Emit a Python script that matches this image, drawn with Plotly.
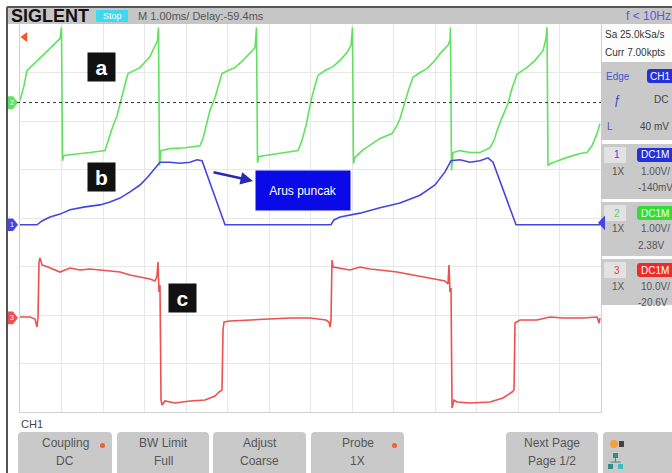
import plotly.graph_objects as go

W, H = 672, 473

# ---- acquisition data: time in ms (relative to screen centre), amplitude in volts ----
# CH2 (green) - signal a
ch2_t = [-7.000, -6.904, -6.831, -6.687, -6.518, -6.325, -6.157, -6.036, -6.000,
         -5.976, -5.940, -5.675, -5.313, -4.952, -4.880, -4.783, -4.663, -4.542,
         -4.446, -4.398, -4.253, -4.108, -3.867, -3.747, -3.687, -3.663,
         -3.639, -3.602, -3.386, -3.024, -2.663, -2.590, -2.542, -2.422, -2.301,
         -2.205, -2.133, -1.988, -1.819, -1.627, -1.458, -1.337, -1.301,
         -1.277, -1.241, -0.976, -0.614, -0.301, -0.205, -0.108, 0.012, 0.108,
         0.181, 0.349, 0.542, 0.711, 0.880, 0.976, 1.012,
         1.036, 1.072, 1.241, 1.482, 1.675, 1.964, 2.084, 2.157, 2.277,
         2.373, 2.470, 2.639, 2.807, 3.000, 3.120, 3.313, 3.361, 3.373,
         3.398, 3.434, 3.602, 3.843, 4.084, 4.325, 4.422, 4.494, 4.614,
         4.759, 4.855, 4.976, 5.096, 5.217, 5.410, 5.602, 5.675, 5.699,
         5.723, 5.771, 5.964, 6.181, 6.494, 6.663, 6.783, 6.904, 6.976]
ch2_v = [0.04, 0.35, 0.66, 0.78, 0.91, 1.07, 1.22, 1.32, 1.55,
         -1.20, -1.09, -1.07, -1.03, -0.99, -0.78, -0.54, -0.27, 0.10,
         0.45, 0.60, 0.66, 0.72, 0.95, 1.18, 1.28, 1.55,
         -1.30, -0.99, -0.95, -0.93, -0.89, -0.74, -0.58, -0.16, 0.10,
         0.41, 0.60, 0.66, 0.72, 0.87, 1.01, 1.13, 1.55,
         -1.24, -1.11, -1.07, -1.03, -0.99, -0.78, -0.47, 0.04, 0.35,
         0.56, 0.66, 0.74, 0.87, 1.03, 1.18, 1.55,
         -1.26, -1.13, -0.99, -0.85, -0.74, -0.64, -0.47, -0.33, 0.04,
         0.29, 0.52, 0.62, 0.70, 0.87, 1.01, 1.18, 1.28, 1.55,
         -1.40, -1.03, -0.99, -1.03, -1.03, -0.93, -0.78, -0.58, -0.31,
         -0.02, 0.29, 0.58, 0.66, 0.72, 0.87, 1.07, 1.32, 1.55,
         -1.30, -1.26, -1.20, -1.13, -1.05, -1.03, -0.89, -0.64, -0.43]

# CH1 (blue) - signal b
ch1_t = [-7.000, -6.590, -6.470, -6.277, -6.036, -5.795, -5.434, -5.072, -4.831,
         -4.590, -4.349, -4.108, -3.916, -3.747, -3.627, -3.386, -3.145, -2.904,
         -2.735, -2.614, -2.349, -2.060, 0.494, 0.566, 0.711, 1.193, 1.675,
         2.157, 2.639, 3.000, 3.241, 3.386, 3.602, 3.843, 4.084, 4.277, 4.398,
         4.687, 4.952, 6.976]
ch1_v = [0.00, 0.00, 0.08, 0.16, 0.22, 0.31, 0.37, 0.41, 0.47,
         0.55, 0.68, 0.82, 0.99, 1.17, 1.29, 1.29, 1.27, 1.29,
         1.34, 1.32, 0.68, 0.00, 0.00, 0.10, 0.16, 0.24, 0.35,
         0.45, 0.61, 0.82, 1.09, 1.32, 1.34, 1.29, 1.32, 1.38, 1.29,
         0.61, 0.00, 0.00]

# CH3 (red) - signal c
ch3_t = [-7.000, -6.759, -6.639, -6.590, -6.566, -6.542, -6.518, -6.470, -6.325,
         -6.157, -6.036, -5.795, -5.554, -5.313, -5.072, -4.831, -4.590, -4.349,
         -4.108, -3.867, -3.747, -3.699, -3.675, -3.651, -3.627, -3.602, -3.578,
         -3.506, -3.265, -2.904, -2.542, -2.301, -2.205, -2.133, -2.108, -2.084,
         -1.940, -1.458, -0.976, -0.494, -0.012, 0.373, 0.446, 0.470, 0.494,
         0.518, 0.542, 0.711, 0.952, 1.193, 1.434, 1.675, 2.084, 2.470, 2.880,
         3.241, 3.313, 3.337, 3.361, 3.386, 3.410, 3.458, 3.530, 3.843, 4.325,
         4.639, 4.855, 4.904, 4.928, 5.048, 5.458, 5.771, 6.084, 6.566, 6.904,
         6.952, 6.976]
ch3_v = [0.19, 0.19, -0.23, -1.88, -0.02, 11.53, 12.35, 10.91, 10.49,
         9.88, 9.46, 10.29, 9.88, 10.08, 9.88, 9.67, 9.46, 8.84,
         8.43, 8.02, 7.61, 8.64, 11.53, 5.34, 6.78, -16.93, -17.96,
         -17.13, -17.55, -17.13, -16.93, -16.10, -15.28, -14.87, -2.49, -0.85,
         -0.64, -0.43, -0.23, -0.02, -0.02, -0.43, -0.85, -1.88, -0.43,
         11.94, 10.49, 10.29, 9.88, 10.49, 10.08, 9.88, 9.46, 8.84, 8.23,
         7.61, 6.99, 10.91, 5.34, 6.16, -18.58, -16.93, -17.34, -17.55, -17.34,
         -16.52, -15.28, -14.87, -1.05, -0.43, -0.43, 0.19, -0.02, -0.02, 0.19,
         -1.05, -0.02]

# vertical settings (V/div, offset V) and trigger
ch1_scale, ch1_offset = 1.0, -0.14
ch2_scale, ch2_offset = 1.0, 2.38
ch3_scale, ch3_offset = 10.0, -20.6
trig_level = 0.04
h_divs, v_divs = 14, 8

GREEN = "#5fe35f"
BLUE = "#4545e0"
RED = "#ef4f4f"
FONT = "Liberation Sans, Arial, sans-serif"

# grid rectangle on the page (pixels)
GX0, GX1, GY0, GY1 = 20, 601, 24, 412


def px(x):
    return x / W


def py(y):
    return 1 - y / H


def to_div(vals, scale, offset):
    return [(v + offset) / scale for v in vals]


fig = go.Figure()

for t, v, sc, off, col in [(ch2_t, ch2_v, ch2_scale, ch2_offset, GREEN),
                           (ch1_t, ch1_v, ch1_scale, ch1_offset, BLUE),
                           (ch3_t, ch3_v, ch3_scale, ch3_offset, RED)]:
    fig.add_trace(go.Scatter(x=t, y=to_div(v, sc, off), mode="lines",
                             line=dict(color=col, width=1.6),
                             hoverinfo="skip", showlegend=False))

# trigger position marker (off-screen to the left)
fig.add_trace(go.Scatter(
    x=[-h_divs / 2 + 0.12], y=[3.73], mode="markers", cliponaxis=False,
    showlegend=False, hoverinfo="skip",
    marker=dict(symbol="triangle-left", size=9, color="#f05a28")))

shapes = []
annotations = []

# channel ground tags at the left edge of the graticule
for num, off, sc, col in [("2", ch2_offset, ch2_scale, GREEN),
                          ("1", ch1_offset, ch1_scale, BLUE),
                          ("3", ch3_offset, ch3_scale, RED)]:
    yc = off / sc
    hh = 0.13
    shapes.append(dict(type="path", xref="paper", yref="y", layer="above",
                       path=(f"M {px(8)},{yc + hh} L {px(13)},{yc + hh} "
                             f"L {px(18)},{yc} L {px(13)},{yc - hh} "
                             f"L {px(8)},{yc - hh} Z"),
                       fillcolor=col, line=dict(width=0)))
    annotations.append(dict(x=px(12), y=yc, xref="paper", yref="y", text=num,
                            showarrow=False, xanchor="center", yanchor="middle",
                            font=dict(size=7, color="white", family=FONT)))


def rrect(x0, y0, x1, y1, r, fill, line=None):
    path = (f"M {px(x0 + r)},{py(y0)} L {px(x1 - r)},{py(y0)} "
            f"Q {px(x1)},{py(y0)} {px(x1)},{py(y0 + r)} "
            f"L {px(x1)},{py(y1 - r)} Q {px(x1)},{py(y1)} {px(x1 - r)},{py(y1)} "
            f"L {px(x0 + r)},{py(y1)} Q {px(x0)},{py(y1)} {px(x0)},{py(y1 - r)} "
            f"L {px(x0)},{py(y0 + r)} Q {px(x0)},{py(y0)} {px(x0 + r)},{py(y0)} Z")
    shapes.append(dict(type="path", xref="paper", yref="paper", path=path,
                       fillcolor=fill, line=dict(width=0 if line is None else 1,
                                                 color=line or fill), layer="above"))


def rect(x0, y0, x1, y1, fill, layer="above"):
    shapes.append(dict(type="rect", xref="paper", yref="paper",
                       x0=px(x0), x1=px(x1), y0=py(y1), y1=py(y0),
                       fillcolor=fill, line=dict(width=0), layer=layer))


def text(x, y, s, size=11, color="#444", anchor="left", bold=False, family=FONT):
    if bold:
        s = f"<b>{s}</b>"
    annotations.append(dict(x=px(x), y=py(y), xref="paper", yref="paper", text=s,
                            showarrow=False, xanchor=anchor, yanchor="middle",
                            font=dict(size=size, color=color, family=family)))


# header bar
rect(7, 7, W, 24, "#c6c6c6")
shapes.append(dict(type="line", xref="paper", yref="paper", x0=px(7), x1=1,
                   y0=py(7), y1=py(7), line=dict(color="#555", width=2)))
shapes.append(dict(type="line", xref="paper", yref="paper", x0=px(7), x1=px(7),
                   y0=py(7), y1=0, line=dict(color="#555", width=2)))
text(9, 16, "SIGLENT", size=18, color="#111", bold=True)
rect(96, 10, 128, 22, "#3fd8f0")
text(112, 16, "Stop", size=9, color="white", anchor="center")
text(136, 16, "M 1.00ms/ Delay:-59.4ms", size=11, color="#555")
text(624, 16, "f < 10Hz", size=12, color="#5a5ae0")

# trigger level (dotted) line through CH2 ground
shapes.append(dict(type="line", xref="paper", yref="y", x0=px(17), x1=px(604),
                   y0=ch2_offset / ch2_scale, y1=ch2_offset / ch2_scale,
                   line=dict(color="#333", width=1, dash="dot")))

# right info panel
text(603, 35, "Sa 25.0kSa/s", size=10, color="#333")
text(603, 52, "Curr 7.00kpts", size=10, color="#333")
rect(601, 62, W, 140, "#c9c9c9")
text(604, 76, "Edge", size=10, color="#4a56d0")
rrect(647, 69, 676, 83, 3, "#2630d8")
text(660, 76, "CH1", size=10, color="white", anchor="center")
text(617, 100, "ƒ", size=12, color="#3a46c8", anchor="center")
text(670, 100, "DC", size=10, color="#444", anchor="right")
text(605, 126, "L", size=10, color="#4a56d0")
text(638, 126, "40 mV", size=10, color="#444")

blocks = [
    (144, 199, "1", "#3a46d0", "#2630d8", ["1.00V/", "-140mV"]),
    (202, 256, "2", "#60d060", "#33dd33", ["1.00V/", "2.38V"]),
    (259, 305, "3", "#e04040", "#ee2a2a", ["10.0V/", "-20.6V"]),
]
for y0, y1, num, ncol, bcol, vals in blocks:
    rect(601, y0, W, y1, "#c9c9c9")
    rect(604, y0 + 3, 626, y0 + 19, "#e2e2e2")
    text(612, y0 + 11, num, size=10, color=ncol)
    rrect(637, y0 + 4, 676, y0 + 18, 3, bcol)
    text(655, y0 + 11, "DC1M", size=10, color="white", anchor="center")
    text(610, y0 + 27, "1X", size=10, color="#555")
    text(639, y0 + 27, vals[0], size=10, color="#555")
    text(636, y0 + 43, vals[1], size=10, color="#555")

# trigger level tag at the right edge (drawn over the info panel)
yt = (trig_level + ch1_offset) / ch1_scale
shapes.append(dict(type="path", xref="paper", yref="y", layer="above",
                   path=(f"M {px(598)},{yt} L {px(605)},{yt + 0.15} "
                         f"L {px(605)},{yt - 0.15} Z"),
                   fillcolor=BLUE, line=dict(width=0)))

# bottom soft-key bar
text(19, 424, "CH1", size=11, color="#444")
keys = [(18, 112, "Coupling", "DC", True), (117, 209, "BW Limit", "Full", False),
        (213, 306, "Adjust", "Coarse", False), (311, 404, "Probe", "1X", True),
        (506, 598, "Next Page", "Page 1/2", False)]
for x0, x1, l1, l2, dot in keys:
    rrect(x0, 432, x1, 476, 4, "#c9c9c9")
    cx = (x0 + x1) / 2
    text(cx, 443, l1, size=12, color="#555", anchor="center")
    text(cx, 461, l2, size=12, color="#555", anchor="center")
    if dot:
        shapes.append(dict(type="circle", xref="paper", yref="paper",
                           x0=px(x1 - 12), x1=px(x1 - 7), y0=py(448), y1=py(443),
                           fillcolor="#f0602a", line=dict(width=0), layer="above"))
rrect(603, 432, 676, 476, 4, "#c9c9c9")
shapes.append(dict(type="circle", xref="paper", yref="paper", x0=px(610), x1=px(618),
                   y0=py(448), y1=py(440), fillcolor="#f5a040", line=dict(width=0),
                   layer="above"))
rect(619, 441, 624, 447, "#444")
rect(613, 453, 618, 458, "#3a8a8a")
rect(608, 464, 613, 469, "#3a8a8a")
rect(618, 464, 623, 469, "#3fbfbf")
shapes.append(dict(type="line", xref="paper", yref="paper", x0=px(615.5), x1=px(615.5),
                   y0=py(458), y1=py(462), line=dict(color="#3a8a8a", width=1),
                   layer="above"))
shapes.append(dict(type="line", xref="paper", yref="paper", x0=px(610.5), x1=px(620.5),
                   y0=py(462), y1=py(462), line=dict(color="#3a8a8a", width=1),
                   layer="above"))

# waveform labels
for lbl, cx, cy in [("a", 101, 67), ("b", 102, 177), ("c", 182, 298)]:
    annotations.append(dict(x=px(cx), y=py(cy), xref="paper", yref="paper",
                            xanchor="center", yanchor="middle",
                            text=f"<b>{lbl}</b>", showarrow=False, bgcolor="#111",
                            width=25, height=26, borderpad=1,
                            font=dict(size=21, color="white", family=FONT)))

annotations.append(dict(x=px(303), y=py(190), xref="paper", yref="paper",
                        xanchor="center", yanchor="middle",
                        text="Arus puncak", showarrow=False, bgcolor="#0a0ae8",
                        width=92, height=37, borderpad=1,
                        font=dict(size=12, color="white", family=FONT)))
annotations.append(dict(x=px(253), y=py(181), xref="paper", yref="paper", text="",
                        showarrow=True, ax=-41, ay=-9, arrowhead=2, arrowsize=1,
                        arrowwidth=2.5, arrowcolor="#2a2ab0"))

fig.update_layout(
    width=W, height=H, margin=dict(l=0, r=0, t=0, b=0),
    paper_bgcolor="white", plot_bgcolor="white",
    xaxis=dict(domain=[px(GX0), px(GX1)], range=[-h_divs / 2, h_divs / 2], dtick=1,
               showgrid=True, gridcolor="#e8e8e8", gridwidth=1, zeroline=False,
               showticklabels=False, ticks="", showline=True, mirror=True,
               linecolor="#d0d0d0", fixedrange=True),
    yaxis=dict(domain=[py(GY1), py(GY0)], range=[-v_divs / 2, v_divs / 2], dtick=1,
               showgrid=True, gridcolor="#e8e8e8", gridwidth=1, zeroline=False,
               showticklabels=False, ticks="", showline=True, mirror=True,
               linecolor="#d0d0d0", fixedrange=True),
    shapes=shapes, annotations=annotations, showlegend=False,
)

fig.write_html("out.html")
